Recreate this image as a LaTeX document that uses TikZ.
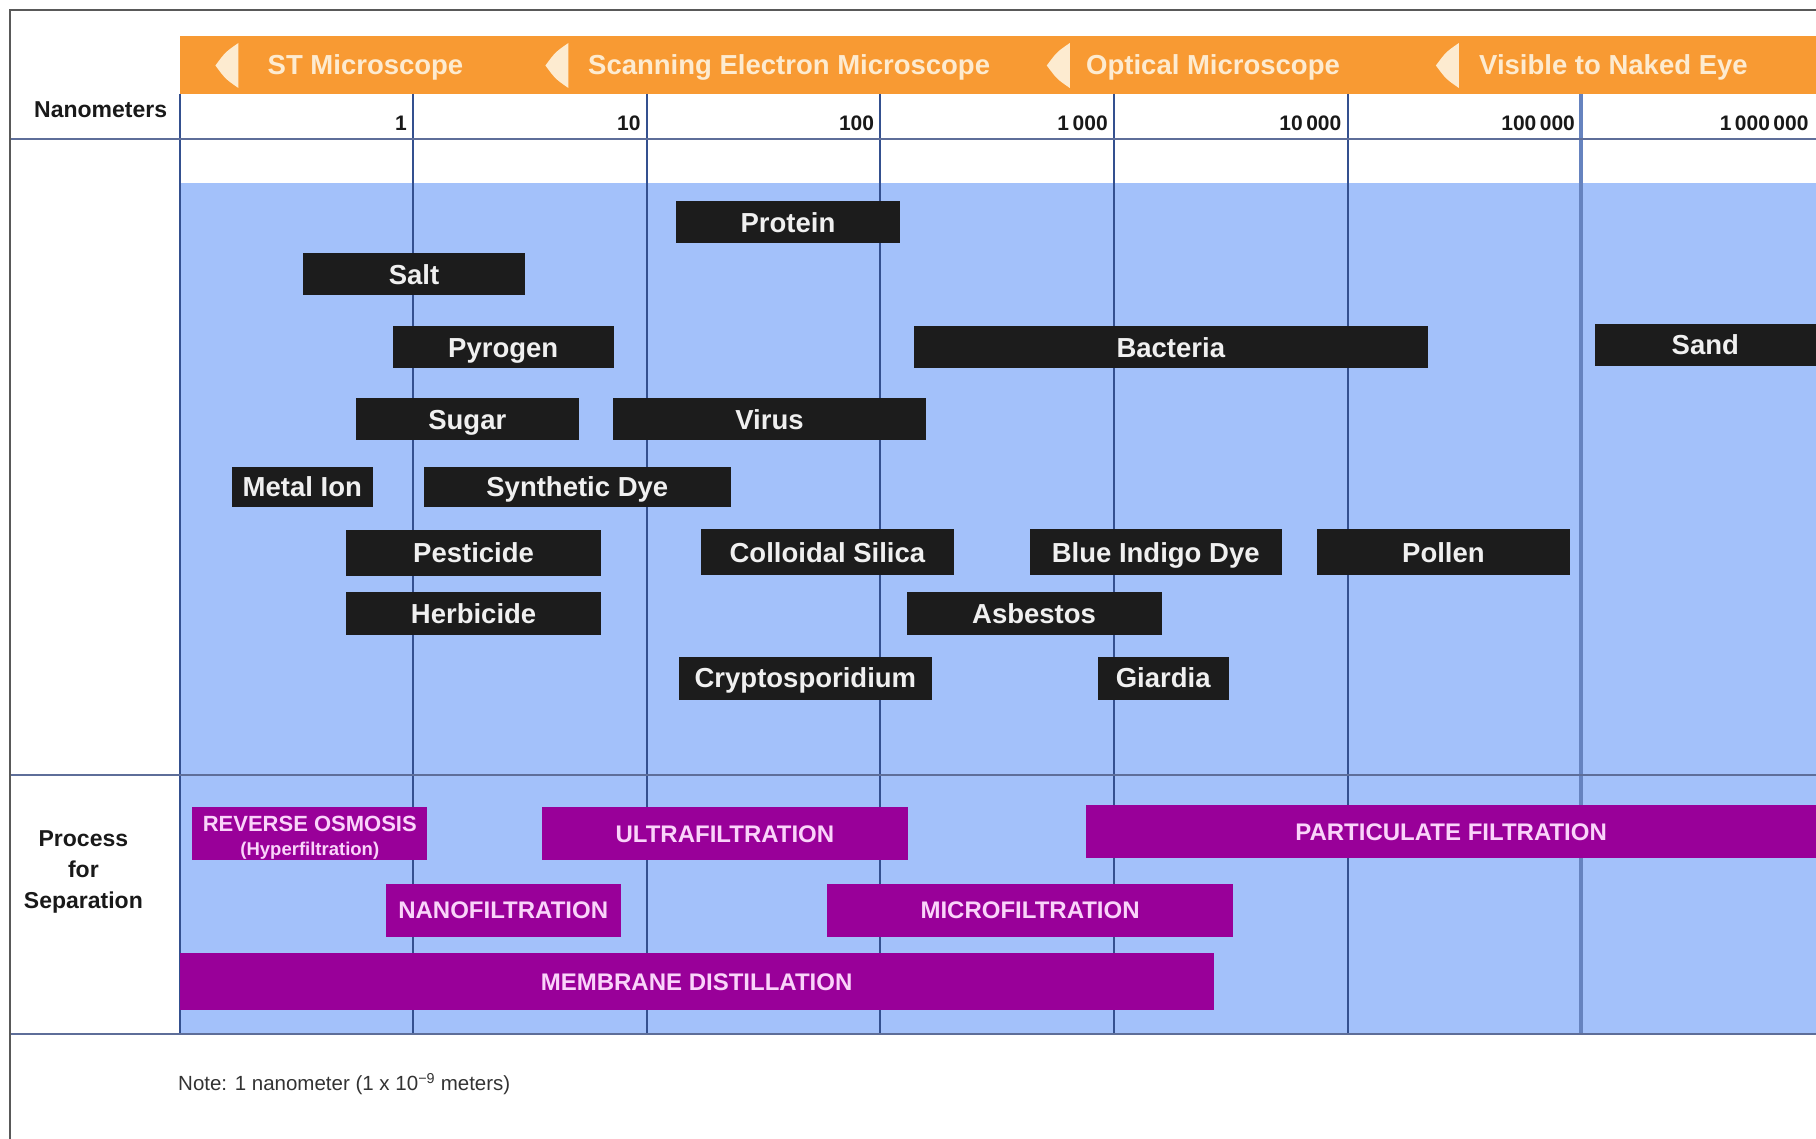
\documentclass[tikz,border=0pt]{standalone}
\usepackage{fontspec}
\setmainfont{Liberation Sans}
\usepackage{tikz}
\definecolor{bandorange}{HTML}{F89A33}
\definecolor{bandtext}{HTML}{FDEBD0}
\definecolor{chartblue}{HTML}{A3C1FA}
\definecolor{gridnavy}{HTML}{34508F}
\definecolor{rulegray}{HTML}{5E6E99}
\definecolor{barblack}{HTML}{1C1C1C}
\definecolor{procpurple}{HTML}{990099}
\definecolor{proctext}{HTML}{FAD4FA}
\tikzset{
    particle/.style = {fill=barblack, text=white!94!black, inner sep=0pt, minimum height=42,
        text height=19.7pt, text depth=0pt, font=\bfseries\fontsize{27.5}{30}\selectfont},
    process/.style = {fill=procpurple, text=proctext, inner sep=0pt, minimum height=53,
        font=\bfseries\fontsize{24}{27}\selectfont},
    procbar/.style = {process, text height=17.2pt, text depth=0pt},
    scopelabel/.style = {text=bandtext, anchor=west, inner sep=0pt, font=\bfseries\fontsize{27.5}{30}\selectfont},
    ticklabel/.style = {anchor=east, inner sep=0pt, text=black!90, font=\bfseries\fontsize{21}{23}\selectfont},
    rowlabel/.style = {align=center, inner sep=0pt, text=black!90, font=\bfseries\fontsize{23}{31}\selectfont},
    gridline/.style = {gridnavy, line width=2},
    ruleline/.style = {rulegray, line width=2.5}
}

\begin{document}
\begin{tikzpicture}[x=1pt, y=-1pt]
    \useasboundingbox (0,0) rectangle (1816,1139);
    % backgrounds
    \fill[chartblue] (179.5,183) rectangle (1816,1034);
    \fill[bandorange] (179.5,36) rectangle (1816,94);

    % decades
    \foreach \k in {0,...,5}
        \draw[gridline] (179.5+233.6*\k,94) -- (179.5+233.6*\k,1034);
    \draw[gridnavy!55!chartblue, line width=4] (1581.1,94) -- (1581.1,1034);
    \draw[ruleline] (10,139) -- (1816,139);
    \draw[ruleline] (10,775) -- (1816,775);
    \draw[ruleline] (10,1034) -- (1816,1034);
    \draw[black!65, line width=2.5] (1816,10) -- (10,10) -- (10,1139);

    % microscope band
    \foreach \x in {215.4,545.4,1046.8,1435.9}
        \fill[bandtext, shift={(\x,0)}] (23,43) .. controls (10,52) .. (0,65.5) .. controls (10,79) .. (23,88) -- cycle;
    \node[scopelabel] (st) at (267.5,67) {ST Microscope};
    \node[scopelabel] (sem) at (588,67) {Scanning Electron Microscope};
    \node[scopelabel] (optical) at (1086,67) {Optical Microscope};
    \node[scopelabel] (naked) at (1479,67) {Visible to Naked Eye};

    % scale
    \node[rowlabel] (nm) at (100.7,110) {Nanometers};
    \foreach \v [count=\k] in {1,10,100,1\,000,10\,000,100\,000,1\,000\,000}
        \node[ticklabel] (tick\k) at (173.5+233.6*\k,123) {\v};

    % particles
    \node[particle, minimum width=223.5] (protein) at (788,222.4) {Protein};
    \node[particle, minimum width=221.2] (salt) at (414,274.5) {Salt};
    \node[particle, minimum width=221.1] (pyrogen) at (503.2,347.4) {Pyrogen};
    \node[particle, minimum width=514.1] (bacteria) at (1170.8,347.4) {Bacteria};
    \node[particle, minimum width=221.4] (sand) at (1705.3,345) {Sand};
    \node[particle, minimum width=223.5] (sugar) at (467.3,419.2) {Sugar};
    \node[particle, minimum width=313.8] (virus) at (769.5,419.2) {Virus};
    \node[particle, minimum width=141.3, minimum height=40.5] (metalion) at (302.3,487) {Metal Ion};
    \node[particle, minimum width=306.9, minimum height=40.5] (synthdye) at (577.3,487) {Synthetic Dye};
    \node[particle, minimum width=254.8, minimum height=45.5] (pesticide) at (473.6,553) {Pesticide};
    \node[particle, minimum width=253.6, minimum height=46] (silica) at (827.4,552.4) {Colloidal Silica};
    \node[particle, minimum width=252.4, minimum height=46] (indigo) at (1155.7,552.4) {Blue Indigo Dye};
    \node[particle, minimum width=253.6, minimum height=46] (pollen) at (1443.4,552.4) {Pollen};
    \node[particle, minimum width=254.8, minimum height=43] (herbicide) at (473.6,613.2) {Herbicide};
    \node[particle, minimum width=254.8, minimum height=43] (asbestos) at (1034.1,613.2) {Asbestos};
    \node[particle, minimum width=253.6, minimum height=43] (crypto) at (805.4,678) {Cryptosporidium};
    \node[particle, minimum width=130.8, minimum height=43] (giardia) at (1163.2,678) {Giardia};

    % separation processes
    \node[rowlabel] (sep) at (83.4,872) {Process\\for\\Separation};
    \node[process, minimum width=235.1, align=center, text height=45.8pt, text depth=3.4pt,
        font=\bfseries\fontsize{22}{24}\selectfont] (ro) at (309.8,833.8)
        {REVERSE OSMOSIS\\{\fontsize{18.5}{20}\selectfont (Hyperfiltration)}};
    \node[procbar, minimum width=366] (uf) at (724.9,833.8) {ULTRAFILTRATION};
    \node[procbar, minimum width=729.8] (pf) at (1451.1,831.5) {PARTICULATE FILTRATION};
    \node[procbar, minimum width=235.1] (nf) at (503.2,910.2) {NANOFILTRATION};
    \node[procbar, minimum width=406.5] (mf) at (1030.1,910.2) {MICROFILTRATION};
    \node[procbar, minimum width=1034.1, minimum height=57] (md) at (696.6,981.4) {MEMBRANE DISTILLATION};

    \node[anchor=west, inner sep=0pt, text=black!80, font=\fontsize{20.5}{23}\selectfont] (note) at (178,1084)
        {Note: 1 nanometer (1 x 10\textsuperscript{−9} meters)};
\end{tikzpicture}
\end{document}
